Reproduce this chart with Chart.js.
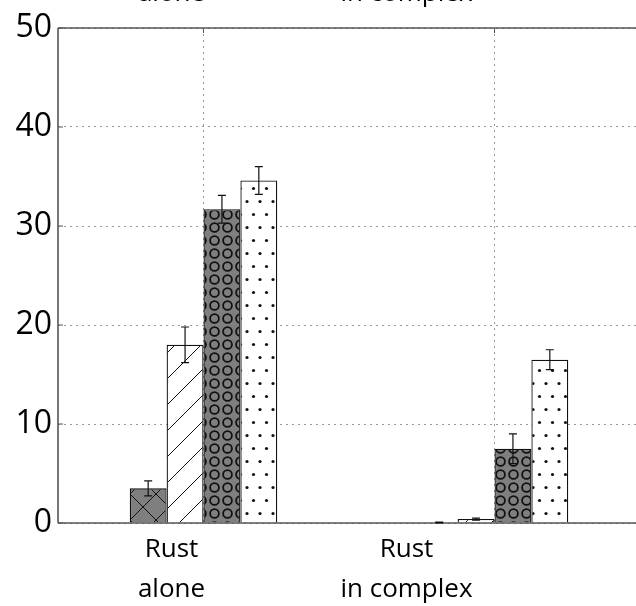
<!DOCTYPE html>
<html>
<head>
<meta charset="utf-8">
<script src="https://cdn.jsdelivr.net/npm/chart.js@4"></script>
<style>
  html, body { margin: 0; padding: 0; background: #fff; overflow: hidden; }
  #wrap { width: 640px; height: 606px; position: relative; }
</style>
</head>
<body>
<div id="wrap"><canvas id="chart"></canvas></div>
<script>
const categories = [['Rust', 'alone'], ['Rust', 'in complex']];
const seriesNames = ['Series 1', 'Series 2', 'Series 3', 'Series 4'];
const series1 = [3.5, 0.05];
const series2 = [18.0, 0.4];
const series3 = [31.7, 7.5];
const series4 = [34.6, 16.5];
const errors1 = [0.75, 0.05];
const errors2 = [1.8, 0.1];
const errors3 = [1.4, 1.5];
const errors4 = [1.4, 1.0];
const yTicks = [0, 10, 20, 30, 40, 50];

const FONT = '"Open Sans", "DejaVu Sans", sans-serif';

function makePattern(kind) {
  const c = document.createElement('canvas');
  const ctx = c.getContext('2d');
  let w = 26, h = 26;
  if (kind === 'circles') { w = 13; h = 13; }
  if (kind === 'dots') { w = 13; h = 26; }
  c.width = w; c.height = h;
  const bg = (kind === 'cross' || kind === 'circles') ? '#7f7f7f' : '#ffffff';
  ctx.fillStyle = bg;
  ctx.fillRect(0, 0, w, h);
  ctx.strokeStyle = '#111';
  ctx.fillStyle = '#111';
  ctx.lineWidth = 1;
  const line = (x1, y1, x2, y2) => { ctx.beginPath(); ctx.moveTo(x1, y1); ctx.lineTo(x2, y2); ctx.stroke(); };
  if (kind === 'cross' || kind === 'diag') {
    line(-2, h + 2, w + 2, -2);
    line(-2 - w / 2, h / 2 + 2, w / 2 + 2, -2 - h / 2);
    line(w / 2 - 2, h * 1.5 + 2, w * 1.5 + 2, h / 2 - 2);
  }
  if (kind === 'cross') {
    line(-2, -2, w + 2, h + 2);
    line(-2 - w / 2, h / 2 - 2, w / 2 + 2, h * 1.5 + 2);
    line(w / 2 - 2, -h / 2 - 2, w * 1.5 + 2, h / 2 + 2);
  }
  if (kind === 'circles') {
    ctx.lineWidth = 1.8;
    ctx.beginPath();
    ctx.arc(w / 2, h / 2, 4.4, 0, Math.PI * 2);
    ctx.stroke();
  }
  if (kind === 'dots') {
    const dot = (x, y) => { ctx.beginPath(); ctx.arc(x, y, 1.6, 0, Math.PI * 2); ctx.fill(); };
    dot(w / 2, h / 4);
    dot(0, h * 3 / 4);
    dot(w, h * 3 / 4);
  }
  return ctx.createPattern(c, 'repeat');
}

const patterns = [makePattern('cross'), makePattern('diag'), makePattern('circles'), makePattern('dots')];
const allValues = [series1, series2, series3, series4];
const allErrors = [errors1, errors2, errors3, errors4];

// frame + small inward ticks
const framePlugin = {
  id: 'frame',
  afterDatasetsDraw(chart) {
    const { ctx, chartArea: a, scales } = chart;
    ctx.save();
    ctx.strokeStyle = '#555';
    ctx.lineWidth = 1.6;
    ctx.beginPath();
    ctx.moveTo(a.left, a.top); ctx.lineTo(a.right, a.top);
    ctx.moveTo(a.left, a.top); ctx.lineTo(a.left, a.bottom);
    ctx.moveTo(a.left, a.bottom); ctx.lineTo(a.right, a.bottom);
    ctx.stroke();
    ctx.lineWidth = 1;
    ctx.beginPath();
    yTicks.forEach(t => {
      const y = scales.y.getPixelForValue(t);
      ctx.moveTo(a.left, y); ctx.lineTo(a.left + 5, y);
    });
    categories.forEach((_, i) => {
      const x = scales.x.getPixelForValue(i);
      ctx.moveTo(x, a.top); ctx.lineTo(x, a.top + 5);
    });
    ctx.stroke();
    ctx.restore();
  }
};

const errorPlugin = {
  id: 'errors',
  afterDatasetsDraw(chart) {
    const { ctx, scales } = chart;
    ctx.save();
    ctx.strokeStyle = '#111';
    ctx.lineWidth = 1.2;
    chart.data.datasets.forEach((ds, di) => {
      const meta = chart.getDatasetMeta(di);
      meta.data.forEach((bar, i) => {
        const v = allValues[di][i], e = allErrors[di][i];
        const y1 = scales.y.getPixelForValue(v + e);
        const y2 = scales.y.getPixelForValue(Math.max(0, v - e));
        ctx.beginPath();
        ctx.moveTo(bar.x, y1); ctx.lineTo(bar.x, y2);
        ctx.moveTo(bar.x - 4, y1); ctx.lineTo(bar.x + 4, y1);
        ctx.moveTo(bar.x - 4, y2); ctx.lineTo(bar.x + 4, y2);
        ctx.stroke();
      });
    });
    ctx.restore();
  }
};

// category labels sit left of the bar groups in the source figure
const labelShift = [-32, -88];
const labelPlugin = {
  id: 'catLabels',
  afterDraw(chart) {
    const { ctx, scales } = chart;
    ctx.save();
    ctx.fillStyle = '#000';
    ctx.font = '26px ' + FONT;
    ctx.textAlign = 'center';
    ctx.textBaseline = 'alphabetic';
    categories.forEach((lines, i) => {
      const x = scales.x.getPixelForValue(i) + labelShift[i];
      ctx.fillText(lines[0], x, 557);
      ctx.fillText(lines[1], x, 597);
      // clipped copy of the label from the panel above
      ctx.fillText(lines[1], x, 1);
    });
    ctx.restore();
  }
};

new Chart(document.getElementById('chart'), {
  type: 'bar',
  data: {
    labels: categories,
    datasets: seriesNames.map((name, i) => ({
      label: name,
      data: allValues[i],
      backgroundColor: patterns[i],
      borderColor: '#111',
      borderWidth: 1.3,
      barPercentage: 1.0,
      categoryPercentage: 0.507
    }))
  },
  options: {
    responsive: true,
    maintainAspectRatio: false,
    animation: false,
    layout: { padding: { top: 28, left: 0, right: 0, bottom: 0 } },
    plugins: { legend: { display: false }, tooltip: { enabled: false } },
    scales: {
      x: {
        offset: true,
        grid: { offset: false, color: '#999', lineWidth: 1, drawTicks: false },
        border: { display: false, dash: [2, 4] },
        ticks: { display: false },
        afterFit(scale) { scale.height = 83; }
      },
      y: {
        min: 0, max: 50,
        afterBuildTicks(scale) { scale.ticks = yTicks.map(v => ({ value: v })); },
        grid: { color: '#999', lineWidth: 1, drawTicks: false },
        border: { display: false, dash: [2, 4] },
        ticks: { color: '#000', padding: 6, font: { family: FONT, size: 32 } },
        afterFit(scale) { scale.width = 58; }
      }
    }
  },
  plugins: [framePlugin, errorPlugin, labelPlugin]
});
</script>
</body>
</html>
